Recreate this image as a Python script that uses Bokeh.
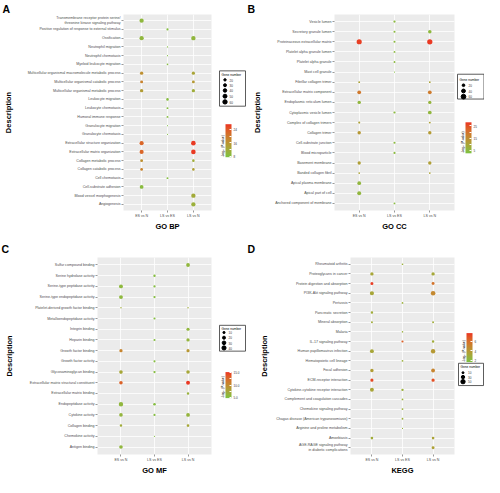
import numpy as np
from bokeh.plotting import figure
from bokeh.models import (ColumnDataSource, FactorRange, Range1d, LinearColorMapper,
                          ColorBar, FixedTicker, PrintfTickFormatter, Title)
from bokeh.layouts import row, column
from bokeh.transform import transform
from bokeh.embed import file_html
from bokeh.resources import INLINE
from bokeh.core.properties import value

FONT = "Liberation Sans"
COMPARISONS = ["ES vs N", "LS vs ES", "LS vs N"]

# ---------------- Panel A : GO BP ----------------
A_TERMS = [
    "Transmembrane receptor protein serine/\nthreonine kinase signaling pathway",
    "Positive regulation of response to external stimulus",
    "Ossification", "Neutrophil migration", "Neutrophil chemotaxis",
    "Myeloid leukocyte migration",
    "Multicellular organismal macromolecule metabolic process",
    "Multicellular organismal catabolic process",
    "Multicellular organismal metabolic process",
    "Leukocyte migration", "Leukocyte chemotaxis", "Humoral immune response",
    "Granulocyte migration", "Granulocyte chemotaxis",
    "Extracellular structure organization", "Extracellular matrix organization",
    "Collagen metabolic process", "Collagen catabolic process", "Cell chemotaxis",
    "Cell-substrate adhesion", "Blood vessel morphogenesis", "Angiogenesis"]
A_N_ES_N = [58, 0, 58, 0, 0, 0, 36, 30, 38, 0, 0, 0, 0, 0, 54, 54, 28, 25, 0, 46, 0, 0]
A_N_LS_ES = [0, 16, 0, 7, 6, 10, 0, 0, 0, 22, 14, 14, 5, 5, 0, 0, 0, 0, 14, 0, 0, 0]
A_N_LS_N = [0, 0, 62, 0, 0, 0, 34, 28, 36, 0, 0, 0, 0, 0, 66, 66, 22, 22, 0, 0, 60, 58]
A_P_ES_N = [9.5, 0, 9.6, 0, 0, 0, 16.5, 18.5, 14.5, 0, 0, 0, 0, 0, 22.5, 22.5, 16.5, 18.5, 0, 8.8, 0, 0]
A_P_LS_ES = [0, 8.4, 0, 8.2, 8.2, 8.5, 0, 0, 0, 8.6, 8.4, 8.6, 8.0, 8.0, 0, 0, 0, 0, 8.3, 0, 0, 0]
A_P_LS_N = [0, 0, 9.8, 0, 0, 0, 13, 15, 11.5, 0, 0, 0, 0, 0, 26.5, 26.5, 11.5, 14, 0, 0, 12, 11]
A_SIZE_BREAKS = [20, 30, 40, 50, 60]
A_COLOR_TICKS = [8, 12, 16, 20, 24]

# ---------------- Panel B : GO CC ----------------
B_TERMS = [
    "Vesicle lumen", "Secretory granule lumen", "Proteinaceous extracellular matrix",
    "Platelet alpha granule lumen", "Platelet alpha granule", "Mast cell granule",
    "Fibrillar collagen trimer", "Extracellular matrix component",
    "Endoplasmic reticulum lumen", "Cytoplasmic vesicle lumen",
    "Complex of collagen trimers", "Collagen trimer", "Cell-substrate junction",
    "Blood microparticle", "Basement membrane", "Banded collagen fibril",
    "Apical plasma membrane", "Apical part of cell", "Anchored component of membrane"]
B_N_ES_N = [0, 0, 72, 0, 0, 0, 10, 38, 32, 0, 12, 32, 0, 0, 30, 9, 38, 42, 0]
B_N_LS_ES = [14, 12, 12, 10, 10, 4, 0, 0, 0, 14, 0, 0, 13, 13, 0, 0, 0, 0, 10]
B_N_LS_N = [0, 34, 74, 0, 0, 0, 9, 38, 30, 38, 11, 32, 0, 0, 32, 9, 0, 0, 0]
B_P_ES_N = [0, 0, 27, 0, 0, 0, 10, 19, 5.5, 0, 10.5, 12.5, 0, 0, 11, 10, 5.5, 5.5, 0]
B_P_LS_ES = [4.5, 4.5, 4.5, 4.5, 4.5, 3.5, 0, 0, 0, 4.5, 0, 0, 4.5, 4.5, 0, 0, 0, 0, 4.2]
B_P_LS_N = [0, 5, 27.5, 0, 0, 0, 10, 18.5, 6, 5.5, 10.5, 12, 0, 0, 11, 10, 0, 0, 0]
B_SIZE_BREAKS = [20, 40, 60]
B_COLOR_TICKS = [5, 10, 15, 20, 25]

# ---------------- Panel C : GO MF ----------------
C_TERMS = [
    "Sulfur compound binding", "Serine hydrolase activity",
    "Serine-type peptidase activity", "Serine-type endopeptidase activity",
    "Platelet-derived growth factor binding", "Metalloendopeptidase activity",
    "Integrin binding", "Heparin binding", "Growth factor binding",
    "Growth factor activity", "Glycosaminoglycan binding",
    "Extracellular matrix structural constituent", "Extracellular matrix binding",
    "Endopeptidase activity", "Cytokine activity", "Collagen binding",
    "Chemokine activity", "Antigen binding"]
C_N_ES_N = [0, 0, 34, 34, 4, 0, 0, 0, 24, 0, 30, 28, 0, 45, 30, 14, 0, 30]
C_N_LS_ES = [0, 12, 11, 11, 0, 9, 0, 9, 0, 9, 11, 0, 0, 14, 10, 0, 3, 0]
C_N_LS_N = [32, 0, 0, 0, 4, 0, 22, 24, 22, 0, 28, 34, 12, 0, 32, 16, 0, 0]
C_P_ES_N = [0, 0, 5.8, 5.8, 7, 0, 0, 0, 10.5, 0, 7.5, 13, 0, 6, 6.2, 7, 0, 6]
C_P_LS_ES = [0, 5.3, 5.3, 5.3, 0, 5.3, 0, 5.3, 0, 5.3, 5.3, 0, 0, 5.3, 5.3, 0, 5.2, 0]
C_P_LS_N = [6, 0, 0, 0, 7, 0, 6, 6.2, 9, 0, 7.5, 15, 6.5, 0, 6.3, 7.5, 0, 0]
C_SIZE_BREAKS = [10, 20, 30, 40]
C_COLOR_TICKS = [5.0, 7.5, 10.0, 12.5, 15.0]

# ---------------- Panel D : KEGG ----------------
D_TERMS = [
    "Rheumatoid arthritis", "Proteoglycans in cancer",
    "Protein digestion and absorption", "PI3K-Akt signaling pathway", "Pertussis",
    "Pancreatic secretion", "Mineral absorption", "Malaria",
    "IL-17 signaling pathway", "Human papillomavirus infection",
    "Hematopoietic cell lineage", "Focal adhesion", "ECM-receptor interaction",
    "Cytokine-cytokine receptor interaction", "Complement and coagulation cascades",
    "Chemokine signaling pathway", "Chagas disease (American trypanosomiasis)",
    "Arginine and proline metabolism", "Amoebiasis",
    "AGE-RAGE signaling pathway\nin diabetic complications"]
D_N_ES_N = [0, 30, 24, 46, 0, 16, 10, 0, 0, 40, 0, 32, 26, 40, 0, 0, 0, 0, 18, 0]
D_N_LS_ES = [7, 0, 0, 0, 8, 0, 0, 6, 12, 0, 8, 0, 0, 14, 8, 9, 8, 3, 0, 0]
D_N_LS_N = [0, 30, 22, 56, 0, 0, 9, 0, 14, 52, 0, 38, 28, 0, 0, 0, 0, 0, 18, 22]
D_P_ES_N = [0, 3.3, 7.5, 3.3, 0, 3, 3, 0, 0, 3.3, 0, 3.8, 7.2, 3.4, 0, 0, 0, 0, 3, 0]
D_P_LS_ES = [2.8, 0, 0, 0, 2.8, 0, 0, 2.8, 6.5, 0, 2.8, 0, 0, 2.8, 2.8, 2.8, 2.8, 2.6, 0, 0]
D_P_LS_N = [0, 3.2, 5.8, 4.8, 0, 0, 3, 0, 3, 4, 0, 5, 7, 0, 0, 0, 0, 0, 3.5, 3.6]
D_SIZE_BREAKS = [10, 30, 50]
D_COLOR_TICKS = [2, 4, 6]

CB_TITLE = "-Log\u2081\u2080 (P-value)"


# ---------------- colour palette (Lab interpolation green -> red) ----------------
def _hex2rgb(h):
    return np.array([int(h[i:i + 2], 16) for i in (1, 3, 5)]) / 255.0


_M = np.array([[0.4124, 0.3576, 0.1805], [0.2126, 0.7152, 0.0722], [0.0193, 0.1192, 0.9505]])
_MI = np.linalg.inv(_M)
_WP = np.array([0.95047, 1.0, 1.08883])


def _lin(c):
    return np.where(c <= 0.04045, c / 12.92, ((c + 0.055) / 1.055) ** 2.4)


def _gam(c):
    c = np.clip(c, 0, 1)
    return np.where(c <= 0.0031308, 12.92 * c, 1.055 * np.power(c, 1 / 2.4) - 0.055)


def _f(t):
    d = 6 / 29
    return np.where(t > d ** 3, np.cbrt(t), t / (3 * d * d) + 4 / 29)


def _finv(t):
    d = 6 / 29
    return np.where(t > d, t ** 3, 3 * d * d * (t - 4 / 29))


def _rgb2lab(rgb):
    fx, fy, fz = _f(_M @ _lin(rgb) / _WP)
    return np.array([116 * fy - 16, 500 * (fx - fy), 200 * (fy - fz)])


def _lab2rgb(lab):
    L, a, b = lab
    fy = (L + 16) / 116
    xyz = np.array([_finv(fy + a / 500), _finv(fy), _finv(fy - b / 200)]) * _WP
    return _gam(_MI @ xyz)


def make_palette(lo_hex, hi_hex, n=256):
    l0, l1 = _rgb2lab(_hex2rgb(lo_hex)), _rgb2lab(_hex2rgb(hi_hex))
    out = []
    for t in np.linspace(0, 1, n):
        r, g, b = (_lab2rgb(l0 + (l1 - l0) * t) * 255).round().astype(int)
        out.append("#%02x%02x%02x" % (r, g, b))
    return out


PALETTE = make_palette("#7CC242", "#EB3323")


def long_form(terms, counts, logps, k, c):
    xs, ys, ns, ps, ss = [], [], [], [], []
    for cmp, cs, ls in zip(COMPARISONS, counts, logps):
        for t, n, lp in zip(terms, cs, ls):
            if n:
                xs.append(cmp); ys.append(t); ns.append(n); ps.append(lp)
                ss.append(k * np.sqrt(n) + c)
    return ColumnDataSource(dict(cmp=xs, term=ys, count=ns, logp=ps, size=ss))


def main_panel(letter, terms, counts, logps, mapper, k, c, xtitle,
               W, H, bl, br, bt, bb, ylab_standoff, letter_standoff):
    xr = FactorRange(factors=COMPARISONS, range_padding=0.2, range_padding_units="absolute")
    yr = FactorRange(factors=terms[::-1], range_padding=0.2, range_padding_units="absolute")
    title = Title(text=letter, align="left", offset=-(bl - 1), standoff=letter_standoff,
                  text_font=FONT, text_font_size="10.5px", text_font_style="bold",
                  text_color="black")
    p = figure(width=W, height=H, x_range=xr, y_range=yr, output_backend="svg",
               toolbar_location=None, title=title, min_border_left=bl, min_border_right=br,
               min_border_top=bt, min_border_bottom=bb)
    p.background_fill_color = "#EBEBEB"
    p.border_fill_color = "white"
    p.outline_line_color = None
    p.grid.grid_line_color = "white"
    p.grid.grid_line_width = 0.8
    for ax in (p.xaxis[0], p.yaxis[0]):
        ax.axis_line_color = None
        ax.major_tick_line_color = "#333333"
        ax.major_tick_line_width = 0.5
        ax.major_tick_out = 2
        ax.major_tick_in = 0
        ax.major_label_text_font = FONT
        ax.major_label_text_font_size = "3.6px"
        ax.major_label_text_color = "#4D4D4D"
        ax.major_label_standoff = 1
        ax.axis_label_text_font = FONT
        ax.axis_label_text_font_size = "7.5px"
        ax.axis_label_text_font_style = "bold"
        ax.axis_label_text_color = "black"
    p.xaxis.axis_label = xtitle
    p.xaxis.axis_label_standoff = 1
    p.yaxis.axis_label = "Description"
    p.yaxis.axis_label_standoff = ylab_standoff
    src = long_form(terms, counts, logps, k, c)
    p.scatter(x="cmp", y="term", size="size", source=src, marker="circle",
              fill_color=transform("logp", mapper), line_color=None)
    return p


CB_SHIFT = 24  # empirical correction of the colour bar anchor


def legend_panel(W, H, mapper, breaks, k, c, ticks, fmt, box, title_pos, circle_x,
                 label_x, entry_ys, cb_left, cb_top, cb_bottom, cb_w):
    q = figure(width=W, height=H, x_range=Range1d(0, W), y_range=Range1d(H, 0),
               x_axis_type=None, y_axis_type=None, output_backend="svg", title=None,
               toolbar_location=None, min_border=0)
    q.outline_line_color = None
    q.background_fill_color = "white"
    q.border_fill_color = "white"
    q.quad(left=[box[0]], right=[box[1]], top=[box[2]], bottom=[box[3]],
           fill_color=None, line_color="#333333", line_width=0.8)
    q.text(x=[title_pos[0]], y=[title_pos[1]], text=["Gene number"],
           text_font=value(FONT), text_font_size="3.2px", text_baseline="middle",
           text_align="left", text_color="black")
    q.scatter(x=[circle_x] * len(breaks), y=entry_ys, marker="circle",
              size=[k * np.sqrt(b) + c for b in breaks], color="black")
    q.text(x=[label_x] * len(breaks), y=entry_ys, text=[str(b) for b in breaks],
           text_font=value(FONT), text_font_size="3.1px", text_baseline="middle",
           text_align="left", text_color="#333333")
    cb = ColorBar(color_mapper=mapper, ticker=FixedTicker(ticks=ticks), formatter=fmt,
                  width=cb_w, height=int(round(cb_bottom - cb_top)), title=CB_TITLE,
                  title_text_font=FONT, title_text_font_size="3.1px",
                  title_text_font_style="normal", title_text_color="black",
                  title_standoff=2, major_label_text_font=FONT,
                  major_label_text_font_size="3px", major_label_text_color="#333333",
                  label_standoff=2, major_tick_line_color="white", major_tick_in=2,
                  major_tick_out=0, bar_line_color=None, border_line_color=None,
                  background_fill_color=None, padding=0, margin=0,
                  location=(cb_left, H - cb_bottom - CB_SHIFT))
    q.add_layout(cb)
    return q


mA = LinearColorMapper(palette=PALETTE, low=7.5, high=27)
mB = LinearColorMapper(palette=PALETTE, low=2.5, high=28)
mC = LinearColorMapper(palette=PALETTE, low=4.8, high=15.2)
mD = LinearColorMapper(palette=PALETTE, low=1.7, high=7.7)
INT = PrintfTickFormatter(format="%d")
DEC = PrintfTickFormatter(format="%.1f")

TOP_H, BOT_H = 233, 244

pA = main_panel("A", A_TERMS, [A_N_ES_N, A_N_LS_ES, A_N_LS_N], [A_P_ES_N, A_P_LS_ES, A_P_LS_N],
                mA, 0.6, -0.3, "GO BP", 214, TOP_H, 122, 3, 8, 17, 12, 0)
lA = legend_panel(32, TOP_H, mA, A_SIZE_BREAKS, 0.6, -0.3, A_COLOR_TICKS, INT,
                  (5, 31, 67, 109), (7, 71.5), 10.5, 15, [77.7, 84.1, 90.3, 97.1, 103.9],
                  4, 122.4, 155.7, 6)
pB = main_panel("B", B_TERMS, [B_N_ES_N, B_N_LS_ES, B_N_LS_N], [B_P_ES_N, B_P_LS_ES, B_P_LS_N],
                mB, 0.62, -0.1, "GO CC", 210, TOP_H, 88, 2, 8, 17, 10, 0)
lB = legend_panel(28, TOP_H, mB, B_SIZE_BREAKS, 0.62, -0.1, B_COLOR_TICKS, INT,
                  (1, 27.5, 71, 100.5), (3, 77.5), 7, 12, [84.1, 90.9, 97.7],
                  2, 120.7, 151.8, 6)
pC = main_panel("C", C_TERMS, [C_N_ES_N, C_N_LS_ES, C_N_LS_N], [C_P_ES_N, C_P_LS_ES, C_P_LS_N],
                mC, 0.63, 0.2, "GO MF", 214, BOT_H, 97, 3, 24, 17, 13, 5)
lC = legend_panel(32, BOT_H, mC, C_SIZE_BREAKS, 0.63, 0.2, C_COLOR_TICKS, DEC,
                  (5, 31, 84, 116), (7, 88), 9.5, 14, [92.9, 99.3, 105.7, 112.0],
                  4, 138.1, 163.6, 6)
pD = main_panel("D", D_TERMS, [D_N_ES_N, D_N_LS_ES, D_N_LS_N], [D_P_ES_N, D_P_LS_ES, D_P_LS_N],
                mD, 0.6, 0.1, "KEGG", 210, BOT_H, 104, 2, 24, 17, 4, 5)
lD = legend_panel(28, BOT_H, mD, D_SIZE_BREAKS, 0.6, 0.1, D_COLOR_TICKS, INT,
                  (2, 27, 131, 158.6), (4, 134.8), 6.5, 11.5, [142.7, 148.1, 153.8],
                  3, 99.0, 127.6, 6)

layout = column(row(pA, lA, pB, lB), row(pC, lC, pD, lD))
open("out.html", "w").write(file_html(layout, INLINE))
